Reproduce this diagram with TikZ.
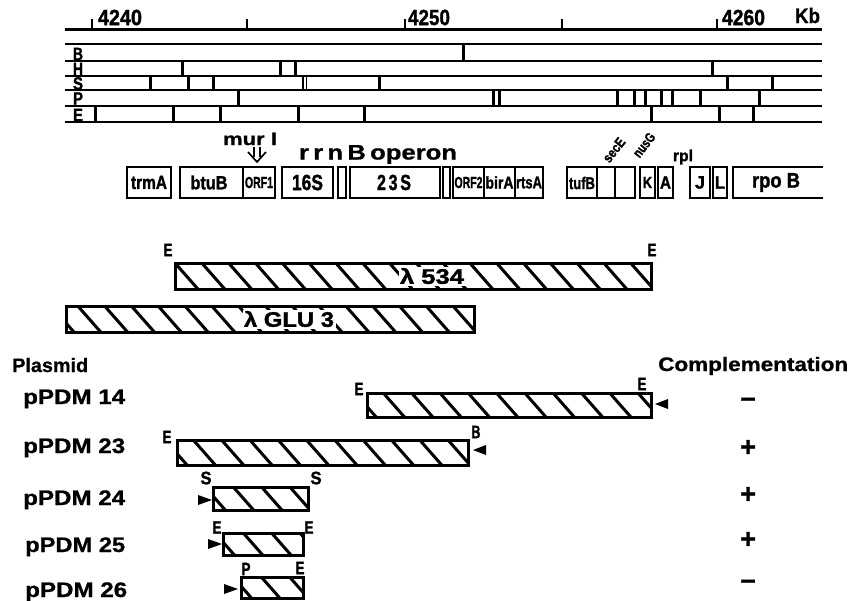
\documentclass[tikz,border=0pt]{standalone}
\usepackage{fontspec}
\usepackage{graphicx}
\setmainfont{Liberation Sans}
\newfontfamily\hv{Liberation Sans Bold}[FakeBold=1.6]
\newfontfamily\hb{Liberation Sans Bold}[FakeBold=0.8]
\newcommand\fs[1]{\fontsize{#1}{#1}\hv}
\newcommand\fh[1]{\fontsize{#1}{#1}\hb}
\newcommand\fw[2]{\resizebox{#1pt}{\height}{#2}}
\tikzset{
  axisline/.style={line width=3pt},
  rowline/.style={line width=2.9pt},
  tickmark/.style={line width=2.6pt},
  rowtick/.style={line width=3pt},
  thintick/.style={line width=1.6pt},
  gbox/.style={line width=2.6pt},
  barline/.style={line width=3pt},
  hatchline/.style={line width=3pt},
  tri/.style={fill=black},
  lbl/.style={inner sep=0pt},
  wlbl/.style={inner sep=1.5pt, fill=white},
}
% x1 y1 x2 y2 phase spacing
\newcommand\hatchbar[6]{%
  \begin{scope}
    \clip (#1,#2) rectangle (#3,#4);
    \pgfmathsetmacro\hbh{#4-#2}
    \pgfmathsetmacro\hbd{\hbh*0.88}
    \pgfmathtruncatemacro\hbn{(#3-#1)/#6+2}
    \foreach \k in {-2,...,\hbn}{
      \pgfmathsetmacro\hbx{#1+#5+\k*#6}
      \draw[hatchline] (\hbx,#2) -- ++(\hbd,\hbh);
    }
  \end{scope}
  \draw[barline] (#1,#2) rectangle (#3,#4);
}
\begin{document}
\begin{tikzpicture}[x=1pt,y=-1pt]
\useasboundingbox (0,0) rectangle (851,600);
% ---- scale axis
\draw[axisline] (65,29) -- (822,29);
\foreach \t in {92,247,405,562,717} \draw[tickmark] (\t,19) -- (\t,29);
\node[lbl] (k4240) at (120,17.5) {\fw{44}{\fs{22}4240}};
\node[lbl] (k4250) at (429,17.5) {\fw{42}{\fs{22}4250}};
\node[lbl] (k4260) at (743.5,17.5) {\fw{43}{\fs{22}4260}};
\node[lbl] (kb) at (807.5,15.5) {\fw{25}{\fh{21}Kb}};
% ---- restriction map rows
\foreach \yy in {44,61,76,90,106,122} \draw[rowline] (65,\yy) -- (822,\yy);
\foreach \t in {463} \draw[rowtick] (\t,44) -- (\t,61);
\foreach \t in {182,280,295,712} \draw[rowtick] (\t,61) -- (\t,76);
\foreach \t in {150,188,213,379,727,772} \draw[rowtick] (\t,76) -- (\t,90);
\foreach \t in {303,306.5} \draw[thintick] (\t,76) -- (\t,90);
\foreach \t in {238,493,499,617,634,645,661,672,700,759} \draw[rowtick] (\t,90) -- (\t,106);
\foreach \t in {95,173,220,298,364,651,719,753} \draw[rowtick] (\t,106) -- (\t,122);
\node[lbl] (rB) at (78,54) {\fw{10}{\fs{18}B}};
\node[lbl] (rH) at (78,69) {\fw{10}{\fs{18}H}};
\node[lbl] (rS) at (78,83.5) {\fw{10}{\fs{18}S}};
\node[lbl] (rP) at (78,98.5) {\fw{10}{\fs{18}P}};
\node[lbl] (rE) at (78,115) {\fw{10}{\fs{18}E}};
% ---- gene boxes
\draw[gbox] (127,167) rectangle (171,198);
\draw[gbox] (180,167) rectangle (275,198) (243,167) -- (243,198);
\draw[gbox] (282,167) rectangle (333,198);
\draw[gbox] (338,167) rectangle (346,198);
\draw[gbox] (350,167) rectangle (440,198);
\draw[gbox] (443,167) rectangle (450,198);
\draw[gbox] (453,167) rectangle (543,198) (484,167) -- (484,198) (515,167) -- (515,198);
\draw[gbox] (567,167) rectangle (635,198) (597,167) -- (597,198) (615,167) -- (615,198);
\draw[gbox] (640,167) rectangle (655,198);
\draw[gbox] (658,167) rectangle (673,198);
\draw[gbox] (690,167) rectangle (710,198);
\draw[gbox] (713,167) rectangle (727,198);
\draw[gbox] (823,167) -- (733,167) -- (733,198) -- (823,198);
\node[lbl] (trmA) at (149,182.5) {\fw{36}{\fs{19}trmA}};
\node[lbl] (btuB) at (209,182.5) {\fw{37}{\fs{19}btuB}};
\node[lbl] (orf1) at (259,182.5) {\fw{28}{\fs{16}ORF1}};
\node[lbl] (s16) at (307.5,182.5) {\fw{31}{\fs{22}16S}};
\node[lbl] (s23) at (394,182.5) {\fw{34}{\fs{22}2\,3\,S}};
\node[lbl] (orf2) at (468.5,182.5) {\fw{28}{\fs{16}ORF2}};
\node[lbl] (birA) at (499.5,182.5) {\fw{28}{\fs{17}birA}};
\node[lbl] (rtsA) at (529,182.5) {\fw{26}{\fs{17}rtsA}};
\node[lbl] (tufB) at (582,183) {\fw{26}{\fs{17}tufB}};
\node[lbl] (gK) at (647.5,182.5) {\fw{9}{\fs{16}K}};
\node[lbl] (gA) at (665.5,182.5) {\fw{11}{\fs{18}A}};
\node[lbl] (gJ) at (700,182.5) {\fw{10}{\fs{18}J}};
\node[lbl] (gL) at (720,182.5) {\fw{10}{\fs{18}L}};
\node[lbl] (rpoB) at (776,182.5) {\fw{48}{\fs{21}rpo B}};
\node[lbl,rotate=52] (secE) at (614,150) {\fw{27}{\fs{14}secE}};
\node[lbl,rotate=52] (nusG) at (644,145) {\fw{27}{\fs{14}nusG}};
\node[lbl] (rpl) at (683,157) {\fw{20}{\fs{16}rpl}};
\node[lbl] (murI) at (250,139) {\fw{54}{\fh{18}mur I}};
\node[lbl] (rrnB) at (378,154.5) {\fw{158}{\fh{21}r\,r\,n\,B\,operon}};
% mur I arrow
\draw[line width=1.7pt] (254,147) -- (254,157) (260,147) -- (260,157);
\draw[line width=1.7pt, line join=miter] (248,152) -- (257,162) -- (266,152);
% ---- lambda clones
\hatchbar{175}{263}{651}{289}{0}{26.8}
\node[wlbl] (l534) at (432,276) {\fw{64}{\fs{21}λ 534}};
\node[lbl] (l534E1) at (168,250) {\fw{9}{\fs{18}E}};
\node[lbl] (l534E2) at (652,250) {\fw{9}{\fs{18}E}};
\hatchbar{66}{306}{474}{332}{-15}{26.8}
\node[wlbl] (lglu) at (289,319) {\fw{90}{\fs{21}λ GLU 3}};
% ---- headings
\node[lbl, anchor=base west] (plasmid) at (12,372) {\fw{76}{\fh{19.5}Plasmid}};
\node[lbl, anchor=base west] (compl) at (658,371) {\fw{190}{\fh{19.5}Complementation}};
\node[lbl, anchor=base west] (p14) at (23,404) {\fw{102}{\fh{21}pPDM 14}};
\node[lbl, anchor=base west] (p23) at (23,453) {\fw{102}{\fh{21}pPDM 23}};
\node[lbl, anchor=base west] (p24) at (23,505) {\fw{102}{\fh{21}pPDM 24}};
\node[lbl, anchor=base west] (p25) at (25,552) {\fw{100}{\fh{21}pPDM 25}};
\node[lbl, anchor=base west] (p26) at (25,597) {\fw{102}{\fh{21}pPDM 26}};
% ---- plasmid bars
\hatchbar{367}{393}{651}{417}{-12}{28.3}
\node[lbl] (p14E1) at (359,389) {\fw{9}{\fs{18}E}};
\node[lbl] (p14E2) at (642,384) {\fw{9}{\fs{18}E}};
\fill[tri] (655,404) -- (668,399) -- (668,409) -- cycle;
\hatchbar{177}{440}{468}{465}{-12}{28.3}
\node[lbl] (p23E) at (167,437) {\fw{9}{\fs{18}E}};
\node[lbl] (p23B) at (476,432) {\fw{9}{\fs{18}B}};
\fill[tri] (473,450) -- (486,445) -- (486,455) -- cycle;
\hatchbar{213}{487}{308}{510}{-8}{28.3}
\node[lbl] (p24S1) at (206,478) {\fw{11}{\fs{18}S}};
\node[lbl] (p24S2) at (316,478) {\fw{11}{\fs{18}S}};
\fill[tri] (212,500) -- (198,495) -- (198,505) -- cycle;
\hatchbar{223}{533}{303}{555}{-8}{28.3}
\node[lbl] (p25E1) at (217,527.5) {\fw{9}{\fs{18}E}};
\node[lbl] (p25E2) at (309,527.5) {\fw{9}{\fs{18}E}};
\fill[tri] (222,544) -- (208,539) -- (208,549) -- cycle;
\hatchbar{241}{577}{303}{598}{-8}{28.3}
\node[lbl] (p26P) at (246,569) {\fw{9}{\fs{18}P}};
\node[lbl] (p26E) at (300,568) {\fw{9}{\fs{18}E}};
\fill[tri] (238,589) -- (224,584) -- (224,594) -- cycle;
% ---- complementation
\node[lbl] (c14) at (748,403) {\fs{27}−};
\node[lbl] (c23) at (748,448) {\fs{27}+};
\node[lbl] (c24) at (748,495) {\fs{27}+};
\node[lbl] (c25) at (748,540) {\fs{27}+};
\node[lbl] (c26) at (748,585) {\fs{27}−};
\end{tikzpicture}
\end{document}
